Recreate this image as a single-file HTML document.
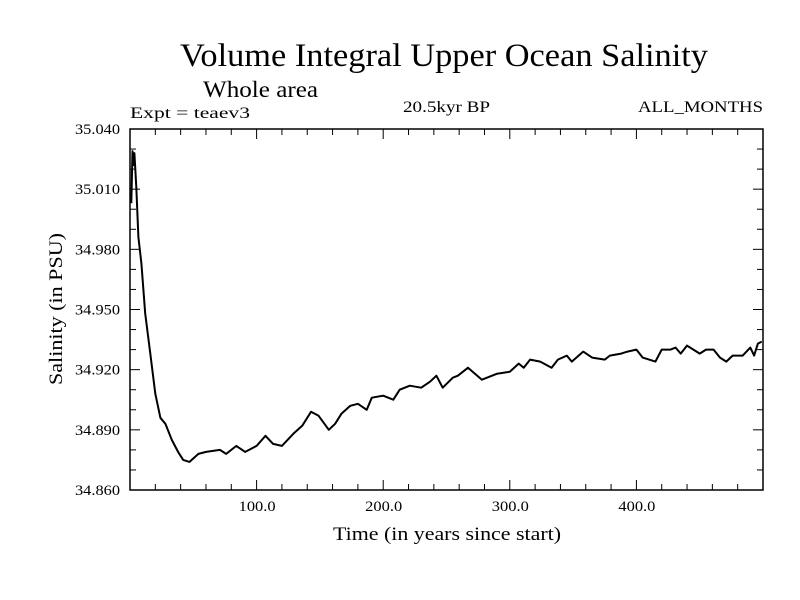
<!DOCTYPE html>
<html><head><meta charset="utf-8"><style>
html,body{margin:0;padding:0;background:#fff}
svg{display:block}
text{font-family:"Liberation Serif",serif;fill:#000}
</style></head><body>
<svg id="chart" width="800" height="600" viewBox="0 0 800 600" xmlns="http://www.w3.org/2000/svg">
<text x="180" y="66" font-size="33" textLength="528" lengthAdjust="spacingAndGlyphs">Volume Integral Upper Ocean Salinity</text>
<text x="203" y="97" font-size="23" textLength="115" lengthAdjust="spacingAndGlyphs">Whole area</text>
<text x="130" y="118" font-size="16" textLength="120" lengthAdjust="spacingAndGlyphs">Expt = teaev3</text>
<text x="403" y="112" font-size="16" textLength="87" lengthAdjust="spacingAndGlyphs">20.5kyr BP</text>
<text x="638" y="112" font-size="16" textLength="125" lengthAdjust="spacingAndGlyphs">ALL_MONTHS</text>
<g id="axes"></g>
<text x="333" y="540" font-size="19" textLength="228" lengthAdjust="spacingAndGlyphs">Time (in years since start)</text>
<text transform="translate(62,385) rotate(-90)" font-size="19" textLength="152" lengthAdjust="spacingAndGlyphs">Salinity (in PSU)</text>
</svg>
<script>
const years=[1,2,3,3.5,5,6.6,9,12,16,20,24,28,33,38,42,47,54,60,71,76,84,91,100,107,113,120,129,136,143,149,157,162,167,174,180,187,191,200,208,213,221,230,237,242,247,255,259,267,278,290,300,307,311,316,324,333,338,345,349,358,365,375,379,388,393,400,405,415,420,427,431,435,440,445,450,455,461,466,471,476,484,490,493,496,499];
const salinity=[35.003,35.029,35.022,35.028,35.011,34.986,34.973,34.948,34.928,34.908,34.896,34.893,34.885,34.879,34.875,34.874,34.878,34.879,34.880,34.878,34.882,34.879,34.882,34.887,34.883,34.882,34.888,34.892,34.899,34.897,34.890,34.893,34.898,34.902,34.903,34.900,34.906,34.907,34.905,34.910,34.912,34.911,34.914,34.917,34.911,34.916,34.917,34.921,34.915,34.918,34.919,34.923,34.921,34.925,34.924,34.921,34.925,34.927,34.924,34.929,34.926,34.925,34.927,34.928,34.929,34.930,34.926,34.924,34.930,34.930,34.931,34.928,34.932,34.930,34.928,34.930,34.930,34.926,34.924,34.927,34.927,34.931,34.927,34.933,34.934];
const yTicks=[34.860,34.890,34.920,34.950,34.980,35.010,35.040];
const yTickLabels=["34.860","34.890","34.920","34.950","34.980","35.010","35.040"];
const xTicks=[100,200,300,400];
const xTickLabels=["100.0","200.0","300.0","400.0"];
const L=130,R=763,T=129,B=490,X0=0,X1=500,Y0=34.86,Y1=35.04;
const sx=v=>L+(v-X0)/(X1-X0)*(R-L);
const sy=v=>B-(v-Y0)/(Y1-Y0)*(B-T);
const NS="http://www.w3.org/2000/svg";
const g=document.getElementById('axes');
function mk(t,a){const e=document.createElementNS(NS,t);for(const k in a)e.setAttribute(k,a[k]);g.appendChild(e);return e;}
const fr=mk('rect',{x:L,y:T,width:R-L,height:B-T,fill:'none',stroke:'#000','stroke-width':1.5});


for(let v=20;v<X1;v+=20){const len=(v%100===0)?10:6;const x=sx(v);
 const t1=mk('line',{x1:x,x2:x,y1:B,y2:B-len,stroke:'#000','stroke-width':1});
 
 
 const t2=mk('line',{x1:x,x2:x,y1:T,y2:T+len,stroke:'#000','stroke-width':1});
 
 }
for(let i=1;i<18;i++){const v=Y0+i*0.01;const len=(i%3===0)?10:6;const y=sy(v);
 const t1=mk('line',{x1:L,x2:L+len,y1:y,y2:y,stroke:'#000','stroke-width':1});
 
 
 const t2=mk('line',{x1:R,x2:R-len,y1:y,y2:y,stroke:'#000','stroke-width':1});
 
 }
xTicks.forEach((v,i)=>{const t=mk('text',{x:sx(v)-18,y:B+21,'font-size':15,textLength:37,lengthAdjust:'spacingAndGlyphs'});t.textContent=xTickLabels[i];
 
 });
yTicks.forEach((v,i)=>{const t=mk('text',{x:L-55,y:sy(v)+5,'font-size':15,textLength:45,lengthAdjust:'spacingAndGlyphs'});t.textContent=yTickLabels[i];
 
 });
const d=years.map((y,i)=>(i?'L':'M')+sx(y).toFixed(1)+','+sy(salinity[i]).toFixed(1)).join('');
const p=mk('path',{d:d,fill:'none',stroke:'#000','stroke-width':2,'stroke-linejoin':'round'});


</script>
</body></html>
